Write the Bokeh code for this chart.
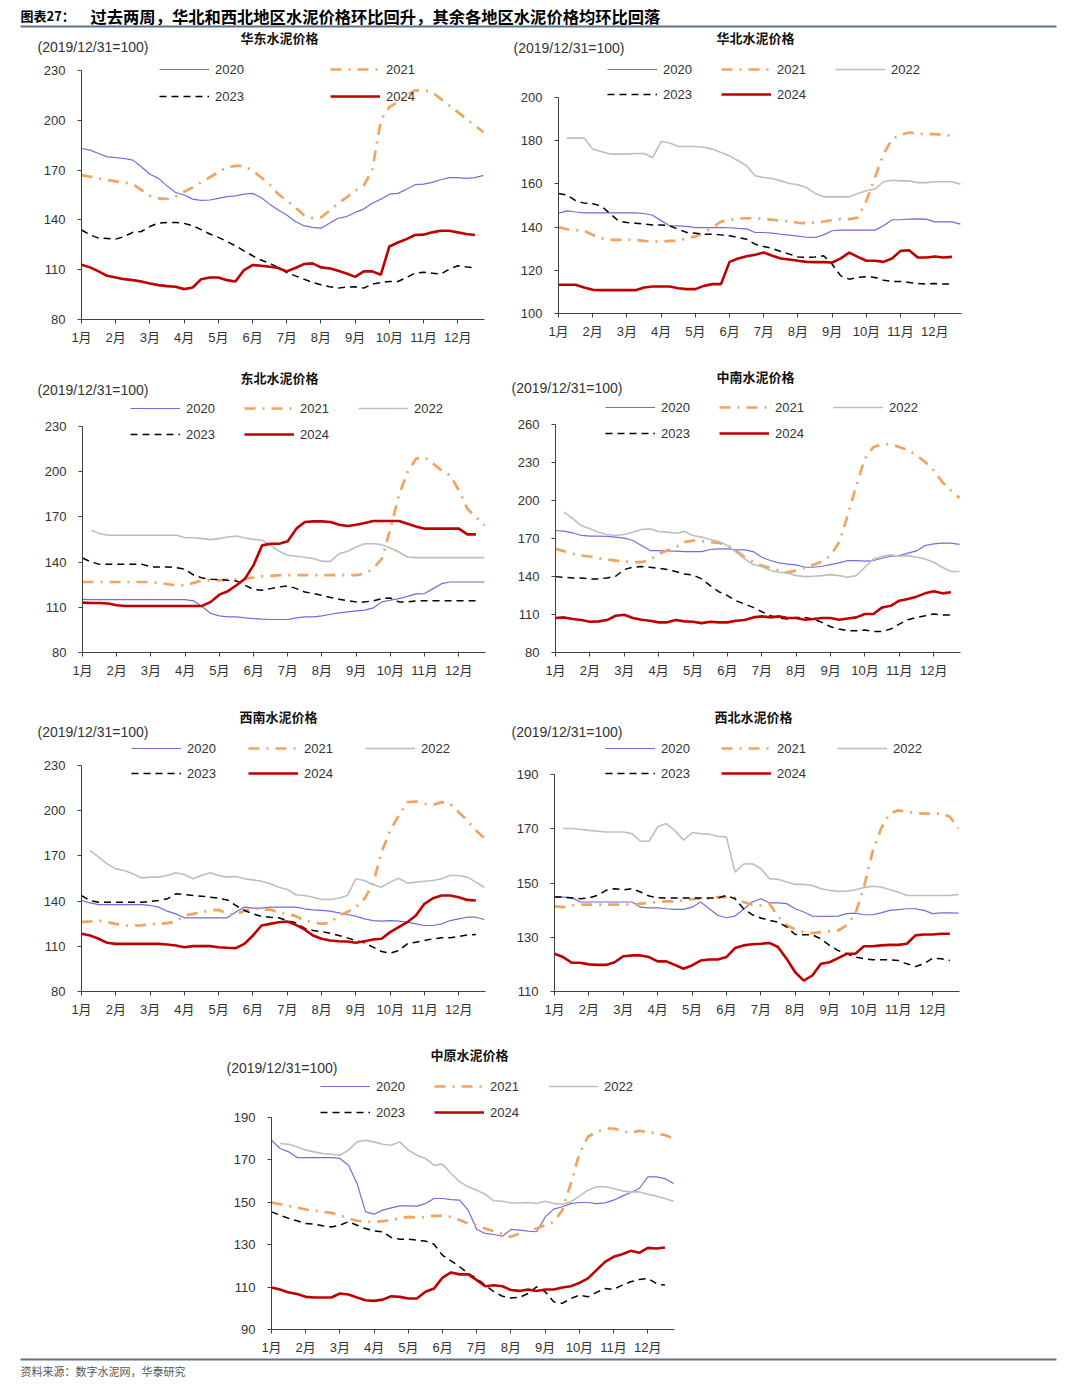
import numpy as np
from bokeh.plotting import figure
from bokeh.models import FixedTicker, Legend, LegendItem, Label, BoxAnnotation, Range1d
from bokeh.layouts import column, row
from bokeh.embed import file_html
from bokeh.resources import INLINE

nan = float("nan")

# ---------------- data (index values, 2019/12/31 = 100), sampled every quarter month ----------------
month_labels = ["1月", "2月", "3月", "4月", "5月", "6月", "7月", "8月", "9月", "10月", "11月", "12月"]
sample_step = 0.25  # months between samples

# 华东
east_2020 = [183, 182, 180, 178, 177.5, 177, 176, 172, 167.5, 165, 160.5, 156.5,
             155, 152.5, 151.8, 152, 153, 154, 154.5, 155.5, 156, 153.5, 149.5, 146,
             143, 139, 136.5, 135.5, 135, 138, 141, 142, 144.5, 146.5, 150, 152.5,
             155.5, 156, 158.5, 161.2, 161.5, 162.6, 164.2, 165.5, 165.5, 165, 165.5, 166.8]
east_2021 = [167, 166, 165, 164, 163.2, 162.5, 161.6, 158, 154.6, 153, 152.6, 154,
             157, 159.6, 162.6, 165.7, 168.7, 171.7, 172.5, 172.5, 169.7, 165.7, 161.2, 155.6,
             151.6, 147.5, 142.9, 141.1, 141.5, 145.5, 150, 153.6, 157.6, 160.6, 170, 200,
             208, 211, 215.3, 218, 218, 217, 212.9, 208.9, 204.9, 200.8, 196.8, 192.8]
east_2023 = [133.9, 131, 129, 128.8, 128.4, 130, 132.5, 133, 136, 138.1, 138.5, 138.5,
             137.9, 136.5, 134.1, 131.5, 129.5, 127, 124.4, 121.4, 118.4, 115.8, 113.8, 111.4,
             108.3, 106.3, 104.3, 102.3, 100.9, 99.7, 98.9, 99.5, 99.7, 98.9, 101.3, 102.3,
             102.9, 102.9, 105.3, 107.9, 108.5, 107.9, 107.3, 110.3, 112.4, 111.7, 111]
east_2024 = [113, 111.4, 109, 106.3, 105.3, 104.3, 103.7, 102.9, 101.7, 100.7, 100.1, 99.7,
             98.3, 99.3, 104.3, 105.3, 105.3, 103.7, 102.9, 109.8, 112.8, 112.4, 111.8, 111,
             109, 111, 113.4, 113.8, 111.4, 110.8, 109.3, 107.7, 105.7, 109, 109, 107,
             124, 126.4, 128.4, 130.9, 131.1, 132.5, 133.5, 133.5, 132.5, 131.5, 130.9]

# 华北
north_2020 = [146.5, 147.5, 147, 146.6, 146.6, 146.6, 146.6, 146.6, 146.6, 146.6, 146.3, 145.5,
              143, 140.6, 140.6, 140.3, 139.8, 139.8, 139.8, 139.8, 139.7, 139.4, 139.2, 137.5,
              137.5, 137.2, 136.7, 136.3, 135.8, 135.3, 135.2, 136.4, 138.3, 138.6, 138.6, 138.6,
              138.6, 138.6, 140.6, 143.4, 143.4, 143.7, 143.8, 143.7, 142.4, 142.4, 142.4, 141.4]
north_2021 = [140, 139, 138.6, 138.3, 136.4, 134.9, 134.1, 134.1, 134.1, 134.1, 133.6, 133.3,
              133.3, 133.6, 133.6, 134.9, 135.6, 137.5, 139.8, 142.6, 143.2, 144, 144.1, 144.1,
              143.7, 143.4, 142.9, 142.6, 142, 141.8, 142.1, 142.6, 143.2, 143.7, 143.7, 144.4,
              152.2, 163, 173.8, 180.7, 182.7, 183.8, 183.3, 183, 183, 182.7, 182.3]
north_2022 = [nan, 181.2, 181.2, 181.2, 176.1, 175, 173.8, 173.8, 173.8, 174.1, 174.1, 172.2,
              179.6, 178.9, 177.3, 177.3, 177.3, 177, 176.1, 174.5, 173, 170.7, 168.4, 163.7,
              163, 162.5, 161.4, 160.2, 159.6, 158.3, 155.6, 154, 154, 154, 154, 155.6,
              156.8, 157.6, 161, 161.7, 161.4, 161.4, 160.6, 160.6, 161, 161, 161, 159.9]
north_2023 = [155.6, 154.8, 152.2, 151.1, 150.8, 149.8, 146.3, 142.9, 142.1, 141.8, 141.4, 141,
              141, 140.6, 139, 137.5, 137.2, 136.7, 136.7, 136.4, 136, 135.2, 134.4, 132.1,
              131, 130.1, 128.7, 127.5, 126.2, 125.9, 126.2, 126.7, 122.8, 117.4, 115.9, 116.7,
              117, 116.7, 115.4, 114.8, 114.8, 114.4, 113.9, 113.6, 113.9, 113.6, 113.6]
north_2024 = [113.3, 113.3, 113.3, 112, 111, 110.8, 110.8, 110.8, 110.8, 110.8, 112, 112.5,
              112.5, 112.5, 111.7, 111.3, 111.3, 112.8, 113.6, 113.6, 123.9, 125.5, 126.5, 127.2,
              128.2, 126.7, 125.5, 125, 124.4, 123.9, 123.8, 123.8, 123.6, 125.5, 128.2, 126.2,
              124.4, 124.4, 123.9, 125.5, 129, 129.3, 125.9, 125.9, 126.4, 125.9, 126.2]

# 东北
ne_2020 = [115.3, 115.1, 115.1, 115.1, 115.1, 115.1, 115.1, 115.1, 115.1, 115.1, 115.1, 115.1,
           115.1, 114.3, 110.3, 105.9, 104.3, 103.6, 103.6, 103, 102.5, 102.1, 101.9, 101.9,
           101.9, 103, 103.6, 103.6, 104.3, 105.4, 106.3, 107, 107.6, 108.1, 109.6, 113.6,
           114.7, 115.8, 117.3, 118.9, 119.1, 122.4, 125.7, 126.8, 126.8, 126.8, 126.8, 126.8]
ne_2021 = [126.8, 126.8, 126.8, 126.8, 126.8, 126.8, 126.8, 126.8, 126.8, 126.2, 125.3, 124.6,
           124.6, 126.2, 127.9, 127.9, 127.9, 128.4, 128.4, 129, 129.7, 130.6, 130.8, 131.3,
           131.3, 131.3, 131.3, 131.3, 131.3, 131.3, 131.3, 131.3, 131.3, 132.4, 135.7, 142.3,
           162.2, 184.3, 199.7, 208.6, 209.7, 205.3, 200.8, 197.5, 187.6, 175.4, 169.9, 164.4]
ne_2022 = [nan, 161.1, 158.9, 157.8, 157.8, 157.8, 157.8, 157.8, 157.8, 157.8, 157.8, 157.8,
           156.2, 156.2, 155.6, 154.9, 155.6, 156.7, 157.3, 156, 155.1, 154.5, 151.1, 147.2,
           144.5, 143.9, 143.2, 142.3, 140.5, 140.5, 145.6, 147.2, 150, 152.2, 152.2, 151.6,
           149.4, 146.7, 143.4, 143, 143, 143, 143, 143, 143, 143, 143, 143]
ne_2023 = [142.7, 140.1, 138.5, 138.5, 138.5, 138.5, 138.5, 138.5, 136.8, 136.8, 136.8, 136.3,
           135.2, 131.3, 129.5, 128.6, 128.4, 127.9, 127.5, 124.6, 121.8, 121.3, 122.4, 123.5,
           124.2, 122.4, 120.2, 119.1, 118, 116.5, 115.4, 114.3, 113.6, 113.6, 114.3, 115.8,
           116.2, 113.6, 113.6, 114.3, 114.3, 114.3, 114.3, 114.3, 114.3, 114.3, 114.3]
ne_2024 = [113.1, 112.9, 112.9, 112.5, 111.4, 110.9, 110.9, 110.9, 110.9, 110.9, 110.9, 110.9,
           110.9, 110.9, 110.9, 113.6, 118.4, 120.7, 124.6, 129, 138, 151.1, 152.2, 152.2,
           153.8, 162.2, 166.6, 167, 167, 166.6, 164.8, 164, 164.8, 165.9, 167.3, 167.3,
           167.3, 167.3, 165.5, 163.7, 162.2, 162.2, 162.2, 162.2, 162.2, 158.4, 158.4]

# 中南
cs_2020 = [176.3, 175.8, 174.5, 172.4, 171.9, 171.9, 171.6, 171.1, 170.3, 168.4, 164.5, 160.5,
           160.5, 160.2, 160, 159.7, 159.7, 159.7, 161.3, 161.8, 161.8, 161, 161, 159.7,
           155.2, 152.6, 150.7, 149.7, 149.2, 147.3, 147.3, 148.1, 149.4, 150.7, 152.6, 152.6,
           152.1, 152.6, 154.4, 156, 156.5, 158.4, 160.2, 164.5, 165.8, 166.3, 166.3, 165.3]
cs_2021 = [161.8, 160, 157.9, 156.5, 155.8, 154.4, 153.4, 152.6, 152.1, 151.3, 151.3, 153.1,
           157.9, 160.5, 163.1, 167.1, 168.4, 167.9, 167.1, 166.6, 164.5, 160.5, 155.2, 151.3,
           148.6, 146.8, 144.7, 143.3, 144.7, 146.8, 149.2, 151.8, 156.5, 167.1, 188.2, 212,
           233.1, 242.3, 244.4, 244.4, 242.3, 239.7, 235.7, 230.4, 223.8, 214.6, 208, 201.9]
cs_2022 = [nan, 190.9, 185.6, 180.3, 177.7, 175, 173.2, 172.4, 173.2, 175, 177.1, 177.7,
           175.5, 175, 174.2, 175.5, 172.4, 171.1, 169.2, 167.6, 164.5, 159.2, 153.9, 149.4,
           147.8, 144.7, 143.3, 142.8, 140.7, 139.9, 140.2, 140.7, 141.5, 140.7, 139.4, 140.7,
           147.3, 153.9, 156, 157.1, 156, 156.5, 155.2, 153.9, 151.3, 147.3, 143.9, 143.9]
cs_2023 = [139.9, 139.4, 138.9, 138.9, 138.1, 138.1, 138.9, 140.2, 145.5, 147.3, 147.8, 147.3,
           146.5, 145.5, 143.9, 142, 141.2, 138.1, 132.8, 128, 124.9, 120.9, 118.3, 115.6,
           112.2, 109, 107.2, 106.4, 107.7, 107.7, 106.4, 103.8, 100.3, 98.5, 97.2, 97.2,
           97.7, 96.6, 96.6, 98.5, 102.4, 105.9, 107.7, 109, 110.4, 109.6, 109.6]
cs_2024 = [107.2, 107.7, 106.4, 105.6, 104.3, 104.6, 105.6, 109, 109.8, 107.2, 105.9, 105.1,
           103.8, 103.8, 105.6, 104.6, 104.3, 103.2, 104.3, 103.8, 103.8, 105.1, 105.6, 107.7,
           108.5, 107.7, 108.5, 107.2, 107.2, 105.9, 106.4, 107.2, 107.2, 105.9, 106.9, 107.7,
           110.4, 110.4, 115.6, 116.9, 120.9, 122.2, 124.1, 126.7, 128.3, 126.7, 127.5]

# 西南
sw_2020 = [140.4, 138.8, 137.7, 137.7, 137.7, 137.7, 137.7, 137.7, 137.1, 136, 133.3, 131.5,
           128.9, 128.9, 128.9, 128.9, 128.9, 128.9, 132.7, 136, 135.3, 135.3, 136, 136,
           136, 136, 134.9, 134.2, 133.8, 133.3, 132.2, 131.1, 130, 128.2, 127.1, 126.7,
           127.1, 126.7, 126, 124.9, 123.8, 123.8, 124.9, 127.1, 128.2, 129.3, 129.3, 127.8]
sw_2021 = [126, 126.5, 127.1, 126, 124.9, 123.8, 123.8, 123.8, 124.9, 124.9, 125.4, 126.5,
           130.4, 131.5, 132.7, 133.8, 134.2, 131.5, 130.9, 133.8, 135.3, 134.4, 134.4, 132.7,
           131.5, 130, 127.1, 126, 124.9, 125.6, 130.4, 132.7, 136, 141.5, 151.5, 172.5,
           186.9, 196.8, 205.7, 206.1, 204.6, 203.9, 205.7, 204.6, 199, 193.5, 186.9, 181.8]
sw_2022 = [nan, 173.6, 169.2, 164.7, 161.4, 160.3, 158.1, 155.4, 155.9, 155.9, 157, 158.8,
           157.7, 154.8, 157, 158.8, 157, 155.9, 156.3, 154.8, 154.1, 153.2, 151.5, 149.2,
           147.7, 144.2, 143.7, 142.6, 141.1, 141.1, 141.9, 143.7, 154.8, 153.7, 150.8, 149.2,
           152.6, 155.2, 151.9, 152.6, 153.2, 153.7, 154.8, 157, 157, 155.9, 152.6, 149.2]
sw_2023 = [143.7, 140.4, 139.3, 139.3, 139.3, 139.3, 139.3, 139.3, 139.7, 140.4, 141.5, 144.8,
           144.4, 143.7, 143.3, 142.6, 141.9, 140.8, 137.1, 133.8, 131.5, 129.8, 129.3, 128.9,
           127.1, 125.6, 122, 120.5, 119.8, 118.7, 117.2, 115.6, 113.8, 112.3, 109.4, 106.5,
           105.4, 107.1, 111.6, 112.7, 113.8, 115, 115.6, 115.6, 116.5, 117.6, 117.8]
sw_2024 = [118.3, 117.2, 115, 112.3, 111.6, 111.6, 111.6, 111.6, 111.6, 111.6, 111.2, 110.5,
           109.4, 110.1, 110.1, 110.1, 109.4, 109, 108.8, 111.6, 117.2, 123.8, 124.9, 126,
           126.5, 124.2, 121.2, 117.2, 115, 113.8, 113.4, 113.2, 112.3, 113.4, 114.5, 115,
           119.4, 122.7, 126, 130.4, 138.2, 141.9, 143.7, 143.7, 142.6, 140.8, 140.4]

# 西北
nw_2020 = [144.8, 144.8, 144.6, 143, 143, 143, 143, 143, 143, 143, 141.1, 140.8,
           140.8, 140.5, 140.3, 140.3, 141.1, 143, 140.5, 138.1, 137.2, 137.8, 140.3, 143,
           144.2, 142.7, 142.7, 142.4, 140.5, 139.3, 137.8, 137.7, 137.7, 137.8, 138.7, 138.9,
           138.3, 138.3, 139, 139.9, 140.2, 140.5, 140.5, 139.9, 138.7, 139, 139, 138.9]
nw_2021 = [141.4, 141.1, 141.7, 142, 142, 142, 142, 142, 142, 142, 142.4, 142.7,
           143, 143.2, 143.2, 143.6, 144, 144.2, 144.2, 144.8, 144.8, 144.5, 143, 142,
           141.7, 142.4, 137.8, 134.4, 132.9, 131.9, 131.5, 131.9, 132.2, 132.5, 134.4, 138.7,
           148.5, 161.4, 170.1, 175.6, 176.8, 176.2, 175.8, 175.6, 175.6, 175.6, 174.4, 170.1]
nw_2022 = [nan, 170.1, 170.1, 169.8, 169.4, 169.1, 168.8, 168.8, 168.8, 168.2, 165.4, 165.4,
           170.7, 171.9, 169.4, 165.8, 168.5, 168.2, 168, 167.2, 167, 154, 157, 157.1,
           155.3, 151.6, 151.4, 150.4, 149.5, 149.5, 149.1, 147.9, 147.3, 146.9, 147, 147.5,
           148.3, 148.8, 148.5, 147.5, 146.7, 145.4, 145.4, 145.4, 145.4, 145.4, 145.4, 145.8]
nw_2023 = [144.8, 144.8, 144.5, 144.2, 144.5, 145.4, 147.3, 147.9, 147.5, 147.9, 146.7, 145.2,
           144.6, 144.5, 144.5, 144.5, 144.5, 144.5, 144.5, 144.5, 145.4, 144.2, 140.5, 138.3,
           137.1, 136.2, 135.6, 133.8, 131, 130.9, 130.9, 129.4, 127, 125.1, 123.9, 122.7,
           122.1, 121.7, 121.7, 121.7, 121.4, 120.2, 119.2, 120.2, 122.3, 122.1, 121.4]
nw_2024 = [123.9, 122.7, 120.6, 120.6, 120, 119.8, 119.8, 120.8, 123, 123.3, 123.3, 122.7,
           121.1, 121.1, 119.8, 118.4, 119.6, 121.4, 121.8, 121.8, 122.7, 126, 127, 127.4,
           127.6, 127.9, 126.4, 122.1, 117.1, 114, 115.9, 120.2, 120.8, 122.3, 123.9, 123.9,
           126.7, 126.7, 127, 127.2, 127.2, 127.6, 130.7, 131, 131, 131.3, 131.3]

# 中原
cp_2020 = [179.3, 175.4, 173.8, 171.1, 171.1, 171.1, 171.1, 171.1, 170.7, 167.5, 158.9, 145.5,
           144.4, 146.3, 147.4, 148.3, 148.3, 148.2, 149.4, 151.8, 151.8, 151.3, 151, 146.3,
           137.2, 135.3, 134.8, 134, 137.2, 136.9, 136.4, 136.1, 143, 146.8, 147.9, 149.4,
           149.9, 149.9, 149.4, 149.7, 151, 152.9, 154.6, 156.5, 162, 162, 161.2, 158.9]
cp_2021 = [149.9, 149.1, 148.3, 147.5, 146.6, 146, 145.5, 145, 143.9, 142.4, 141.3, 140.8,
           140.8, 141.1, 141.6, 142.4, 143.1, 142.8, 143.1, 143.6, 143.6, 143.1, 141.6, 140,
           139.2, 137.6, 136.4, 135, 133.7, 135.3, 136.9, 137.6, 139.2, 140.8, 146.3, 158.9,
           173, 180.9, 183.2, 184.8, 184.8, 183.7, 182.8, 183.7, 183.2, 182.5, 181.7, 180.1]
cp_2022 = [nan, 177.7, 177.4, 176.2, 174.6, 173.8, 173, 172.7, 172.2, 174.6, 178.5, 179.3,
           178.5, 177.4, 176.9, 178.5, 174.6, 172.2, 170.7, 167.5, 168, 163.6, 159.7, 157.3,
           155.7, 153.8, 150.7, 150.5, 149.7, 149.7, 149.9, 149.4, 150.5, 149.4, 149.1, 150.2,
           152.9, 155.7, 157.3, 157.3, 156.5, 155.4, 154.9, 154.9, 153.8, 152.9, 151.8, 150.5]
cp_2023 = [145.5, 143.9, 142.4, 141.3, 140, 139.7, 138.9, 138.4, 139.2, 140.8, 139.2, 137.6,
           136.5, 136.1, 133.4, 132.6, 132.6, 132.1, 131.7, 130.2, 125, 122.4, 119.6, 116.4,
           114.1, 110.9, 107.8, 105.7, 104.9, 105.1, 107, 110.1, 107.8, 103.1, 102.3, 104.6,
           106.2, 105.4, 107.5, 109.3, 108.9, 110.9, 112.5, 113.6, 114.1, 111.7, 110.9]
cp_2024 = [109.8, 108.9, 107.5, 106.7, 105.4, 105.1, 105.1, 105.1, 107, 106.5, 105.1, 103.8,
           103.5, 104.1, 105.7, 105.4, 104.6, 104.6, 107.8, 109.3, 114.5, 116.9, 116, 116,
           113.3, 110.4, 110.9, 110.4, 108.6, 108.2, 108.9, 108.2, 108.9, 108.9, 109.8, 110.4,
           112, 114.1, 118, 121.9, 124.3, 125.5, 127.1, 126.2, 128.5, 128.2, 128.7]

# y ticks
ticks_east = [80, 110, 140, 170, 200, 230]
ticks_north = [100, 120, 140, 160, 180, 200]
ticks_ne = [80, 110, 140, 170, 200, 230]
ticks_cs = [80, 110, 140, 170, 200, 230, 260]
ticks_sw = [80, 110, 140, 170, 200, 230]
ticks_nw = [110, 130, 150, 170, 190]
ticks_cp = [90, 110, 130, 150, 170, 190]

unit_text = "(2019/12/31=100)"
header_tag = "图表27："
header_text = "过去两周，华北和西北地区水泥价格环比回升，其余各地区水泥价格均环比回落"
source_text = "资料来源：数字水泥网，华泰研究"

# ---------------- styles ----------------
styles = {
    "2020": dict(line_color="#6E6EDC", line_width=1.2),
    "2021": dict(line_color="#F2A35E", line_width=2.7, line_dash="11 7 2 7"),
    "2022": dict(line_color="#BEBEBE", line_width=1.6),
    "2023": dict(line_color="#000000", line_width=1.5, line_dash="7 5"),
    "2024": dict(line_color="#C00000", line_width=2.6),
}
TICK_FONT = "'Liberation Sans', 'Noto Sans CJK SC', sans-serif"
CJK_FONT = "'Noto Sans CJK SC'"
X_END = 11.78
RULE_COLOR = "#5B7490"


def make_panel(spec):
    fx0, fy0, fx1, fy1 = spec["fig"]
    ax0, ay0, ax1, ay1 = spec["frame"]
    ymin, ymax = spec["ticks"][0], spec["ticks"][-1]
    xpp = X_END / (ax1 - ax0)           # data units per pixel (x)
    ypp = (ymax - ymin) / (ay1 - ay0)   # data units per pixel (y)
    x_range = Range1d(-(ax0 - fx0) * xpp, X_END + (fx1 - ax1) * xpp)
    y_range = Range1d(ymin - (fy1 - ay1) * ypp, ymax + (ay0 - fy0) * ypp)
    p = figure(width=fx1 - fx0, height=fy1 - fy0, x_range=x_range, y_range=y_range,
               min_border=0, toolbar_location=None, tools="", output_backend="svg")
    p.outline_line_color = None
    p.xgrid.visible = False
    p.ygrid.visible = False
    p.background_fill_color = "white"
    p.border_fill_color = "white"

    p.xaxis.fixed_location = ymin
    p.yaxis.fixed_location = 0
    p.xaxis.bounds = (0, X_END)
    p.yaxis.bounds = (ymin, ymax)
    p.xaxis.ticker = FixedTicker(ticks=list(range(12)))
    p.xaxis.major_label_overrides = {i: month_labels[i] for i in range(12)}
    p.yaxis.ticker = FixedTicker(ticks=spec["ticks"])
    for ax in (p.xaxis, p.yaxis):
        ax.axis_line_color = "#404040"
        ax.axis_line_width = 1
        ax.major_tick_line_color = "#404040"
        ax.major_tick_in = 0
        ax.major_tick_out = 4
        ax.minor_tick_line_color = None
        ax.major_label_text_font = TICK_FONT
        ax.major_label_text_font_size = "13px"
        ax.major_label_text_color = "#333333"
    p.xaxis.major_label_standoff = 6
    p.yaxis.major_label_standoff = 12

    items = []
    for yr, vals in spec["series"]:
        xs = np.arange(len(vals)) * sample_step
        r = p.line(xs, np.array(vals, dtype=float), **styles[yr])
        items.append(LegendItem(label=yr, renderers=[r]))

    def to_data(px, py):
        return (px - ax0) * xpp, ymin + (ay1 - py) * ypp

    tx, ty = to_data(*spec["title_xy"])
    p.add_layout(Label(x=tx, y=ty, text=spec["title"], text_align="center",
                       text_baseline="middle", text_font=CJK_FONT, text_font_style="bold",
                       text_font_size="13px", text_color="#111111"))
    ux, uy = to_data(*spec["unit_xy"])
    p.add_layout(Label(x=ux, y=uy, text=unit_text, text_align="left",
                       text_baseline="middle", text_font="Liberation Sans",
                       text_font_size="14px", text_color="#333333"))

    lx, ly, stride, gap = spec["legend"]
    ncols = 3 if len(items) == 5 else 2
    label_w = int(stride - 50 - 6 - gap)
    bottom = ly + 20 + gap + 10
    legend = Legend(items=items, location=(lx - fx0, fy1 - bottom),
                    orientation="horizontal", ncols=ncols,
                    glyph_width=50, glyph_height=20, label_height=20,
                    label_width=label_w, label_standoff=6, spacing=gap,
                    padding=0, margin=0, border_line_color=None,
                    background_fill_alpha=0,
                    label_text_font="Liberation Sans", label_text_font_size="13px",
                    label_text_color="#333333")
    p.add_layout(legend, "center")
    return p


specs = [
    dict(fig=(0, 28, 498, 355), frame=(81, 70, 484, 319), ticks=ticks_east, title="华东水泥价格",
         title_xy=(279, 37), unit_xy=(37, 46), legend=(159, 69, 171, 7),
         series=[("2020", east_2020), ("2021", east_2021), ("2023", east_2023), ("2024", east_2024)]),
    dict(fig=(498, 28, 1072, 355), frame=(558, 97, 961, 313), ticks=ticks_north, title="华北水泥价格",
         title_xy=(755, 37), unit_xy=(513, 47), legend=(607, 69, 114, 5),
         series=[("2020", north_2020), ("2021", north_2021), ("2022", north_2022),
                 ("2023", north_2023), ("2024", north_2024)]),
    dict(fig=(0, 355, 498, 695), frame=(82, 426, 485, 652), ticks=ticks_ne, title="东北水泥价格",
         title_xy=(279, 377), unit_xy=(37, 389), legend=(130, 408, 114, 6),
         series=[("2020", ne_2020), ("2021", ne_2021), ("2022", ne_2022),
                 ("2023", ne_2023), ("2024", ne_2024)]),
    dict(fig=(498, 355, 1072, 695), frame=(555, 424, 960, 652), ticks=ticks_cs, title="中南水泥价格",
         title_xy=(755, 376), unit_xy=(511, 387), legend=(605, 407, 114, 6),
         series=[("2020", cs_2020), ("2021", cs_2021), ("2022", cs_2022),
                 ("2023", cs_2023), ("2024", cs_2024)]),
    dict(fig=(0, 695, 498, 1035), frame=(81, 765, 485, 991), ticks=ticks_sw, title="西南水泥价格",
         title_xy=(278, 716), unit_xy=(37, 731), legend=(131, 748, 117, 5),
         series=[("2020", sw_2020), ("2021", sw_2021), ("2022", sw_2022),
                 ("2023", sw_2023), ("2024", sw_2024)]),
    dict(fig=(498, 695, 1072, 1035), frame=(554, 774, 959, 991), ticks=ticks_nw, title="西北水泥价格",
         title_xy=(753, 716), unit_xy=(511, 731), legend=(605, 748, 116, 5),
         series=[("2020", nw_2020), ("2021", nw_2021), ("2022", nw_2022),
                 ("2023", nw_2023), ("2024", nw_2024)]),
    dict(fig=(0, 1035, 1072, 1357), frame=(271, 1117, 674, 1329), ticks=ticks_cp, title="中原水泥价格",
         title_xy=(469, 1054), unit_xy=(226, 1067), legend=(320, 1086, 114, 6),
         series=[("2020", cp_2020), ("2021", cp_2021), ("2022", cp_2022),
                 ("2023", cp_2023), ("2024", cp_2024)]),
]

panels = [make_panel(s) for s in specs]


def banner(height, page_top):
    f = figure(width=1072, height=height, x_range=Range1d(0, 1072),
               y_range=Range1d(page_top + height, page_top),
               min_border=0, x_axis_type=None, y_axis_type=None,
               toolbar_location=None, tools="", output_backend="svg")
    f.outline_line_color = None
    f.background_fill_color = "white"
    f.border_fill_color = "white"
    return f


header = banner(28, 0)
header.add_layout(Label(x=20, y=15, text=header_tag, text_baseline="middle", text_font=CJK_FONT,
                        text_font_style="bold", text_font_size="13px", text_color="#000000"))
header.add_layout(Label(x=90, y=15, text=header_text, text_baseline="middle", text_font=CJK_FONT,
                        text_font_style="bold", text_font_size="16.3px", text_color="#000000"))
header.add_layout(BoxAnnotation(left=20, right=1056, top=25, bottom=27, fill_color=RULE_COLOR,
                                fill_alpha=1, line_color=None))

footer = banner(23, 1357)
footer.add_layout(BoxAnnotation(left=20, right=1056, top=1358, bottom=1360, fill_color=RULE_COLOR,
                                fill_alpha=1, line_color=None))
footer.add_layout(Label(x=20, y=1370, text=source_text, text_baseline="middle",
                        text_font=CJK_FONT, text_font_size="11px", text_color="#555555"))

layout = column(header,
                row(panels[0], panels[1]),
                row(panels[2], panels[3]),
                row(panels[4], panels[5]),
                panels[6],
                footer)

open("out.html", "w").write(file_html(layout, INLINE))
